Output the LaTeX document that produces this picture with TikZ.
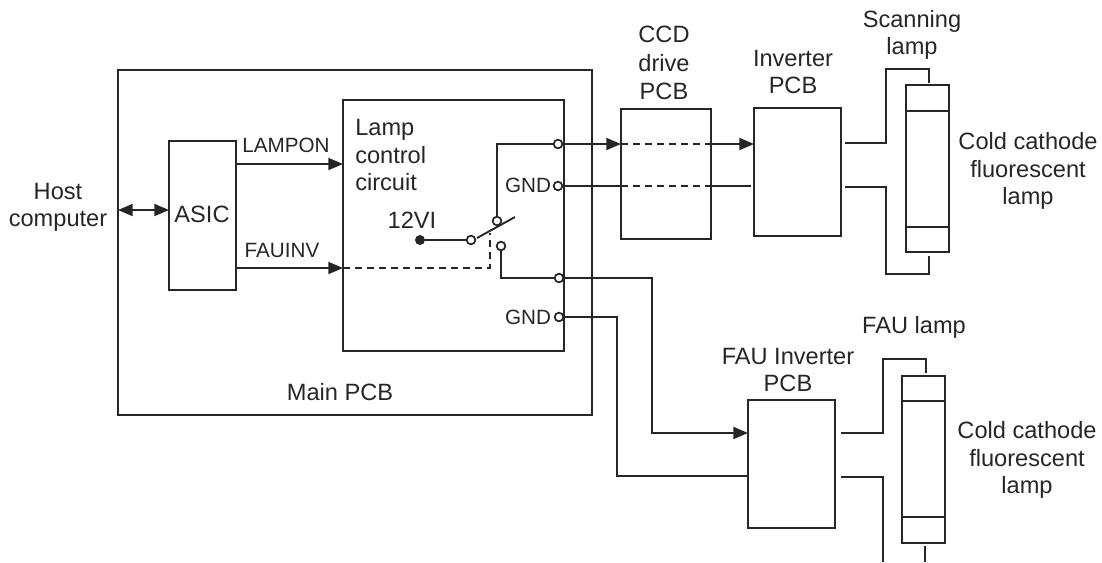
\documentclass[tikz,border=0pt]{standalone}
\usepackage{fontspec}
\setmainfont{Liberation Sans}
\usetikzlibrary{shapes,arrows.meta}
\tikzstyle{pcb} = [rectangle, draw=black!85, line width=1.4pt, inner sep=0pt, outer sep=0pt]
\tikzstyle{label} = [align=center, inner sep=0pt, text=black!85, font=\fontsize{17.7}{20.5}\selectfont]
\tikzstyle{smalllabel} = [align=center, inner sep=0pt, text=black!85, font=\fontsize{15.5}{19}\selectfont]
\tikzstyle{terminal} = [circle, draw=black!85, fill=white, line width=1.3pt, minimum size=6.5pt, inner sep=0pt]
\tikzstyle{source} = [circle, fill=black!85, minimum size=7.5pt, inner sep=0pt]
\tikzstyle{wire} = [line width=1.4pt, draw=black!85]
\tikzstyle{arrow} = [wire, -{Stealth[length=11pt, width=9pt, inset=0pt]}]
\tikzstyle{dashwire} = [wire, dash pattern=on 5pt off 4pt]

\begin{document}
\begin{tikzpicture}[x=0.75pt, y=-0.75pt]
\useasboundingbox (0,0) rectangle (1102,562);

\node (mainpcb) [pcb, minimum width=355.5pt, minimum height=258.75pt] at (355,242.5) {};
\node (asic) [pcb, minimum width=50.25pt, minimum height=111.75pt] at (202.5,215.5) {};
\node (lampctrl) [pcb, minimum width=165.75pt, minimum height=188.25pt] at (453.5,225.5) {};
\node (ccd) [pcb, minimum width=67.5pt, minimum height=97.5pt] at (666,174) {};
\node (inverter) [pcb, minimum width=65.25pt, minimum height=96pt] at (797.5,172) {};
\node (lampA) [pcb, minimum width=32.25pt, minimum height=125.25pt] at (927.5,168.5) {};
\node (fauinverter) [pcb, minimum width=65.25pt, minimum height=96pt] at (791.5,464) {};
\node (lampB) [pcb, minimum width=32.25pt, minimum height=125.25pt] at (923.5,459.5) {};

\node (asictext) [label] at (202,214) {ASIC};
\node (hosttext) [label] at (58,207) {Host\\computer};
\node (ctrltext) [label, align=left, anchor=west] at (355,155) {Lamp\\control\\circuit};
\node (maintext) [label] at (340,392) {Main PCB};
\node (vtext) [label] at (412,220) {12VI};
\node (lamponlabel) [smalllabel] at (286,145) {LAMPON};
\node (fauinvlabel) [smalllabel] at (282,250) {FAUINV};
\node (gndA) [smalllabel] at (528,185) {GND};
\node (gndB) [smalllabel] at (528,317) {GND};
\node (ccdtext) [label] at (664,63) {CCD\\[1pt]drive\\[1pt]PCB};
\node (invtext) [label] at (793,72) {Inverter\\PCB};
\node (scantext) [label] at (912,35) {Scanning\\lamp};
\node (cathodeA) [label] at (1028,171) {Cold cathode\\fluorescent\\lamp};
\node (fautext) [label] at (914,327) {FAU lamp};
\node (fauinvtext) [label] at (788,370) {FAU Inverter\\PCB};
\node (cathodeB) [label] at (1027,460) {Cold cathode\\fluorescent\\lamp};

% switch
\node (vin) [source] at (420,240) {};
\node (swcom) [terminal] at (471,240) {};
\node (swup) [terminal] at (497,221) {};
\node (swdown) [terminal] at (501,246) {};
\coordinate (levertip) at (515,217);
\coordinate (leverbase) at (477,238);
\coordinate (leverjoin) at (490,233);

\node (outA) [terminal] at (558,144) {};
\node (outB) [terminal] at (558,186) {};
\node (outC) [terminal] at (559,278) {};
\node (outD) [terminal] at (559,317) {};

\draw [wire] (vin) -- (swcom);
\draw [wire] (leverbase) -- (levertip);
\draw [wire] (swup) |- (outA);
\draw [wire] (swdown) |- (outC);

\coordinate (ccdinA) at (621,144);
\coordinate (ccdoutA) at (711,144);
\coordinate (invinA) at (754,144);
\coordinate (ccdinB) at (621,186);
\coordinate (ccdoutB) at (711,186);
\coordinate (invinB) at (751,186);
\draw [arrow] (outA) -- (ccdinA);
\draw [dashwire] (ccdinA) -- (ccdoutA);
\draw [arrow] (ccdoutA) -- (invinA);
\draw [wire] (outB) -- (ccdinB);
\draw [dashwire] (ccdinB) -- (ccdoutB);
\draw [wire] (ccdoutB) -- (invinB);

\coordinate (fauinA) at (748,433);
\coordinate (fauinB) at (748,476);
\draw [arrow] (outC) -| (652,433) -- (fauinA);
\draw [wire] (outD) -| (617,476) -- (fauinB);

% asic
\coordinate (hostend) at (118,210);
\coordinate (asicin) at (169,210);
\coordinate (lamponA) at (236,164);
\coordinate (lamponB) at (343,164);
\coordinate (fauinvA) at (236,268);
\coordinate (fauinvB) at (343,268);
\draw [arrow, {Stealth[length=11pt, width=9pt, inset=0pt]}-{Stealth[length=11pt, width=9pt, inset=0pt]}] (hostend) -- (asicin);
\draw [arrow] (lamponA) -- (lamponB);
\draw [arrow] (fauinvA) -- (fauinvB);
\draw [dashwire] (fauinvB) -- (490,268) -- (leverjoin);

% lamps
\coordinate (lampAtop) at (929,83);
\coordinate (lampAbot) at (929,256);
\coordinate (lampBtop) at (926,373);
\coordinate (lampBbot) at (925,546);
\draw [wire] (lampA.west |- 0,111) -- (lampA.east |- 0,111);
\draw [wire] (lampA.west |- 0,227) -- (lampA.east |- 0,227);
\draw [wire] (lampB.west |- 0,401) -- (lampB.east |- 0,401);
\draw [wire, line width=2pt] (lampB.west |- 0,517) -- (lampB.east |- 0,517);
\draw [wire] (845,143) -- (886,143) -- (886,69) -- (929,69) -- (lampAtop);
\draw [wire] (845,187) -- (886,187) -- (886,274) -- (929,274) -- (lampAbot);
\draw [wire] (841,433) -- (883,433) -- (883,359) -- (926,359) -- (lampBtop);
\draw [wire] (841,477) -- (883,477) -- (883,562);
\draw [wire] (lampBbot) -- (925,562);

\end{tikzpicture}
\end{document}
